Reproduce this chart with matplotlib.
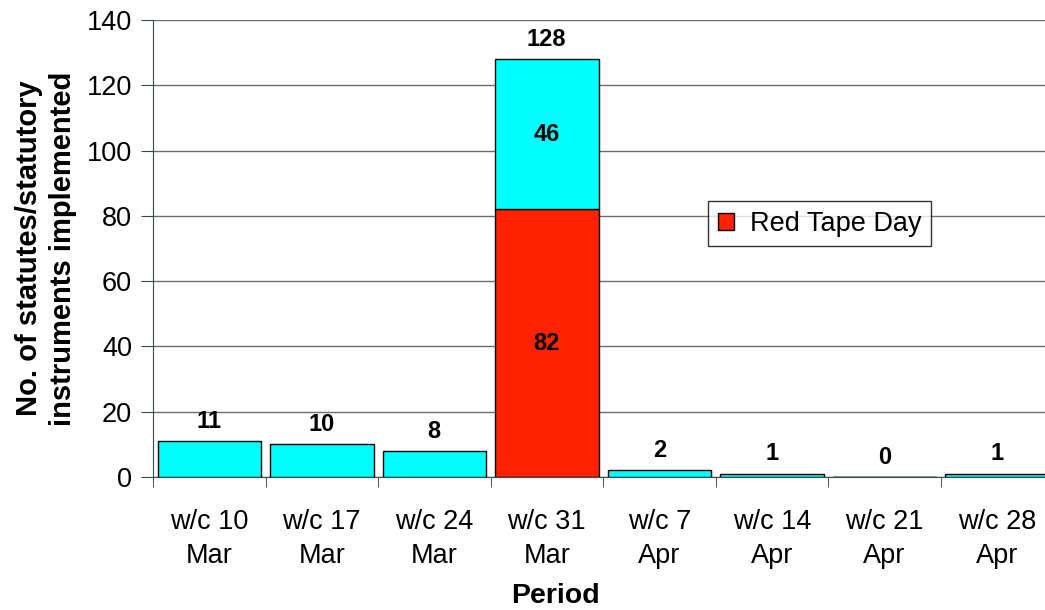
import matplotlib.pyplot as plt
import numpy as np

plt.rcParams['font.family'] = ['Liberation Sans', 'DejaVu Sans']

periods = ['w/c 10\nMar', 'w/c 17\nMar', 'w/c 24\nMar', 'w/c 31\nMar',
           'w/c 7\nApr', 'w/c 14\nApr', 'w/c 21\nApr', 'w/c 28\nApr']
red_tape = [0, 0, 0, 82, 0, 0, 0, 0]
other = [11, 10, 8, 46, 2, 1, 0, 1]
totals = [a + b for a, b in zip(red_tape, other)]

fig = plt.figure(figsize=(10.45, 6.1), dpi=100)
# axes runs slightly past the right edge, as in the original
ax = fig.add_axes([153/1045, 1 - 477/610, 900/1045, 457/610])

x = np.arange(len(periods))
w = 0.92
ax.bar(x, red_tape, w, color='#ff2200', edgecolor='black', linewidth=1,
       label='Red Tape Day', zorder=3)
ax.bar(x, other, w, bottom=red_tape, color='#00ffff', edgecolor='black',
       linewidth=1, zorder=3)

# labels
for i in range(len(x)):
    ax.annotate(str(totals[i]), (x[i], totals[i]), xytext=(0, 6),
                textcoords='offset points', ha='center', va='bottom',
                fontsize=17, fontweight='bold')
    if red_tape[i] > 0:
        ax.text(x[i], red_tape[i] / 2, str(red_tape[i]), ha='center',
                va='center', fontsize=17, fontweight='bold', zorder=4)
        ax.text(x[i], red_tape[i] + other[i] / 2, str(other[i]), ha='center',
                va='center', fontsize=17, fontweight='bold', zorder=4)

ax.set_xlim(-0.5, len(x) - 0.5)
ax.set_ylim(0, 140)
ax.set_yticks(range(0, 141, 20))
ax.set_xticks(x)
ax.set_xticklabels(periods, fontsize=19.5, linespacing=1.4)
ax.set_xticks(np.arange(-0.5, len(x), 1), minor=True)
ax.tick_params(axis='x', which='major', length=0, pad=23)
ax.tick_params(axis='x', which='minor', length=7, direction='out', color='#333333')
ax.tick_params(axis='y', labelsize=19.5, length=9, pad=6, direction='out', color='#2f4f4f')

ax.grid(axis='y', color='#6e6e6e', linewidth=1, zorder=0)
for s in ['top', 'right']:
    ax.spines[s].set_visible(False)
ax.spines['left'].set_color('#2f4f4f')
ax.spines['bottom'].set_color('#2f4f4f')

ax.set_ylabel('No. of statutes/statutory\ninstruments implemented',
              fontsize=21, fontweight='bold', linespacing=1.3)
ax.yaxis.set_label_coords(-0.084, 0.5)
ax.set_xlabel('Period', fontsize=20.5, fontweight='bold')
ax.xaxis.set_label_coords(0.447, -0.232)

leg = ax.legend(loc='center', bbox_to_anchor=(0.741, 0.554), fontsize=19.5,
                frameon=True, fancybox=False, shadow=False, handlelength=0.6,
                handleheight=0.6, handletextpad=0.6, borderpad=0.35,
                borderaxespad=0)
leg.get_frame().set_edgecolor('black')
leg.get_frame().set_linewidth(1)

fig.savefig('out.png', dpi=100)
